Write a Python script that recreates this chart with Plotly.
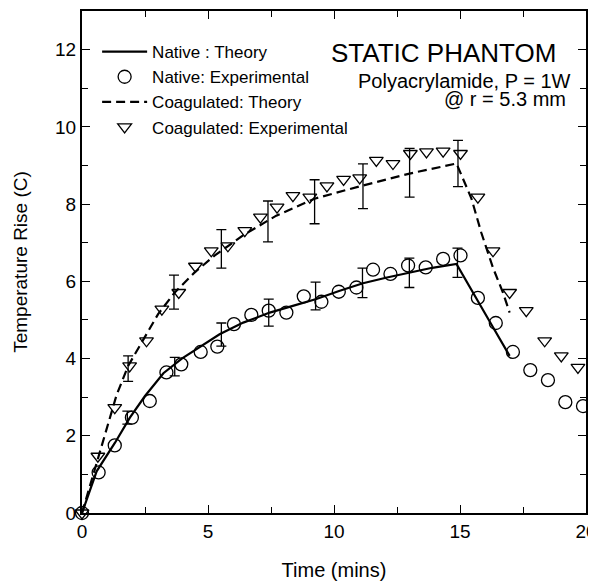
import plotly.graph_objects as go

# ---- data ----
native_theory_t = [0, 0.58, 1.31, 1.9, 2.5, 3.23, 3.96, 4.7, 5.46, 6.4, 7.45, 8.4, 9.3, 10.2,
                   11.15, 12.1, 13.0, 13.9, 14.86, 15.65, 16.31, 16.97]
native_theory_y = [0, 1.08, 1.82, 2.47, 3.03, 3.62, 4.0, 4.32, 4.63, 4.93, 5.19, 5.37, 5.54, 5.75,
                   5.95, 6.1, 6.23, 6.35, 6.45, 5.54, 4.81, 4.07]

native_exp_t = [0, 0.66, 1.30, 1.98, 2.69, 3.35, 3.94, 4.71, 5.37, 6.03, 6.72, 7.41, 8.11, 8.80,
                9.50, 10.19, 10.89, 11.55, 12.24, 12.94, 13.64, 14.33, 15.02, 15.71, 16.42,
                17.10, 17.79, 18.49, 19.18, 19.88]
native_exp_y = [0, 1.05, 1.75, 2.47, 2.90, 3.64, 3.85, 4.17, 4.31, 4.89, 5.13, 5.24, 5.19, 5.61,
                5.47, 5.73, 5.84, 6.30, 6.19, 6.41, 6.36, 6.58, 6.67, 5.57, 4.92,
                4.17, 3.70, 3.44, 2.87, 2.77]

native_err_t = [1.80, 3.68, 5.53, 7.41, 9.27, 11.13, 12.99, 14.90]
native_err_y = [2.47, 3.79, 4.62, 5.19, 5.62, 5.96, 6.22, 6.48]
native_err_h = [0.17, 0.24, 0.30, 0.35, 0.36, 0.38, 0.38, 0.38]

coag_theory_t = [0, 0.63, 1.03, 1.37, 1.83, 2.36, 3.02, 3.68, 4.47, 5.27, 5.93, 6.39, 7.71,
                 9.23, 11.02, 13.0, 14.86, 15.45, 15.85, 16.31, 16.71, 16.97]
coag_theory_y = [0, 1.38, 2.25, 3.05, 3.81, 4.42, 5.15, 5.71, 6.23, 6.67, 6.97, 7.19, 7.70,
                 8.14, 8.46, 8.79, 9.05, 8.15, 7.25, 6.35, 5.70, 5.19]

coag_exp_t = [0, 0.63, 1.30, 1.89, 2.56, 3.17, 3.84, 4.50, 5.13, 5.79, 6.46, 7.08, 7.74, 8.37,
              9.04, 9.72, 10.38, 11.02, 11.68, 12.34, 13.03, 13.67, 14.33, 15.02, 15.71,
              16.31, 16.97, 17.63, 18.36, 19.02, 19.68]
coag_exp_y = [0, 1.47, 2.73, 3.81, 4.46, 5.28, 5.71, 6.39, 6.79, 6.92, 7.31, 7.66, 7.92, 8.22,
              8.18, 8.47, 8.64, 8.68, 9.13, 9.05, 9.31, 9.35, 9.37, 9.31, 8.18,
              6.79, 5.71, 5.24, 4.46, 4.07, 3.77]

coag_err_t = [1.83, 3.65, 5.53, 7.38, 9.23, 11.15, 13.0, 14.92]
coag_err_y = [3.74, 5.72, 6.84, 7.55, 8.06, 8.46, 8.81, 9.05]
coag_err_h = [0.33, 0.44, 0.50, 0.53, 0.57, 0.58, 0.63, 0.60]

x_ticks = [0, 5, 10, 15, 20]
y_ticks = [0, 2, 4, 6, 8, 10, 12]

FONT = "Liberation Sans, Arial, Helvetica, sans-serif"
BLACK = "black"

fig = go.Figure()

fig.add_trace(go.Scatter(
    x=native_theory_t, y=native_theory_y, mode="lines", name="Native : Theory",
    line=dict(color=BLACK, width=2.2), cliponaxis=False))
fig.add_trace(go.Scatter(
    x=native_exp_t, y=native_exp_y, mode="markers", name="Native: Experimental",
    marker=dict(symbol="circle-open", size=13, color=BLACK, line=dict(width=1.3, color=BLACK)),
    cliponaxis=False))
fig.add_trace(go.Scatter(
    x=coag_theory_t, y=coag_theory_y, mode="lines", name="Coagulated: Theory",
    line=dict(color=BLACK, width=2.2, dash="9px,5px"), cliponaxis=False))
fig.add_trace(go.Scatter(
    x=coag_exp_t, y=coag_exp_y, mode="markers", name="Coagulated: Experimental",
    marker=dict(symbol="triangle-down-open", size=12, color=BLACK, line=dict(width=1.3, color=BLACK)),
    cliponaxis=False))

for et, ey, eh in [(native_err_t, native_err_y, native_err_h), (coag_err_t, coag_err_y, coag_err_h)]:
    fig.add_trace(go.Scatter(
        x=et, y=ey, mode="markers", showlegend=False, hoverinfo="skip",
        marker=dict(size=1, color="rgba(0,0,0,0)"),
        error_y=dict(type="data", array=eh, visible=True, color=BLACK, thickness=1.3, width=5),
        cliponaxis=False))

fig.add_annotation(x=18.88, y=11.9, text="STATIC PHANTOM", showarrow=False,
                   xanchor="right", yanchor="middle", font=dict(size=26, color=BLACK, family=FONT))
fig.add_annotation(x=19.47, y=11.18, text="Polyacrylamide, P = 1W", showarrow=False,
                   xanchor="right", yanchor="middle", font=dict(size=20, color=BLACK, family=FONT))
fig.add_annotation(x=19.27, y=10.72, text="@ r = 5.3 mm", showarrow=False,
                   xanchor="right", yanchor="middle", font=dict(size=20, color=BLACK, family=FONT))

axis_common = dict(
    showline=True, linecolor=BLACK, linewidth=2, mirror="ticks",
    ticks="inside", ticklen=8, tickwidth=1.3, tickcolor=BLACK,
    showgrid=False, zeroline=False, automargin=False,
    tickfont=dict(size=19, color=BLACK, family=FONT),
)

fig.update_xaxes(range=[0, 20], tickvals=x_ticks, ticktext=[str(v) for v in x_ticks],
                 minor=dict(dtick=2.5, tick0=0, ticks="inside", ticklen=6, tickwidth=1.3, tickcolor=BLACK),
                 title=dict(text="Time (mins)", font=dict(size=20, color=BLACK, family=FONT), standoff=22),
                 **axis_common)
fig.update_yaxes(range=[0, 13], tickvals=y_ticks, ticktext=[str(v) for v in y_ticks],
                 minor=dict(dtick=1, tick0=0, ticks="inside", ticklen=6, tickwidth=1.3, tickcolor=BLACK),
                 title=dict(text="Temperature Rise (C)", font=dict(size=19, color=BLACK, family=FONT), standoff=22),
                 **axis_common)

# page body has an 8px margin: margins are set so the plot area lands where the reference has it
fig.update_layout(
    width=596, height=583,
    margin=dict(l=74, r=18, t=3, b=78),
    paper_bgcolor="white", plot_bgcolor="white",
    font=dict(family=FONT, color=BLACK),
    legend=dict(x=0.03, y=0.954, xanchor="left", yanchor="top",
                bgcolor="rgba(0,0,0,0)", font=dict(size=17, color=BLACK, family=FONT),
                itemwidth=45, tracegroupgap=0),
    showlegend=True,
)

fig.write_html("out.html")
